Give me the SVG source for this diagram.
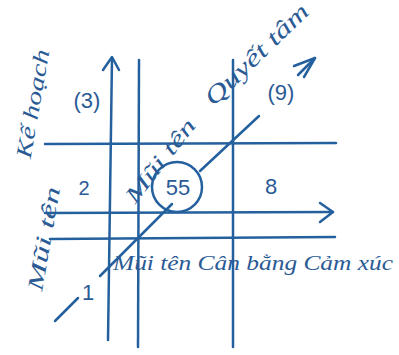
<svg xmlns="http://www.w3.org/2000/svg" width="399" height="355" viewBox="0 0 399 355">
<style>
.ln{stroke:#24609e;stroke-width:2.5;fill:none;stroke-linecap:round;stroke-linejoin:round}
.t{font-family:"Liberation Serif","DejaVu Serif",serif;font-style:italic;fill:#2b5b95;}
.n{font-family:"Liberation Sans","DejaVu Sans",sans-serif;fill:#2b5b95;}
</style>
<rect width="399" height="355" fill="#ffffff"/>
<g id="connectors">
<path class="ln" d="M108,340 L112,58"/>
<path class="ln" d="M103,70 L112,57 L119,70"/>
<path class="ln" d="M139,60 L138,347"/>
<path class="ln" d="M233,60 L233,347"/>
<path class="ln" d="M45,144 L336,143"/>
<path class="ln" d="M45,213 L333,212"/>
<path class="ln" d="M320,203 L333,212 L320,222"/>
<path class="ln" d="M50,239 L335,237"/>
<path class="ln" d="M55,321 L78,298"/>
<path class="ln" d="M100,276 L172,204"/>
<path class="ln" d="M200,171 L259,116"/>
<path class="ln" d="M298,75 L315,58"/>
<path class="ln" d="M294,66 L315,58 L304,77"/>
</g>
<g id="circle55">
<circle class="ln" cx="177" cy="187" r="25"/>
<text class="n" x="178" y="195" font-size="22" text-anchor="middle">55</text>
</g>
<g id="label-kehoach"><text class="t" transform="translate(40,105) rotate(-80)" font-size="22" text-anchor="middle" textLength="110" lengthAdjust="spacingAndGlyphs">Kế hoạch</text></g>
<g id="label-3"><text class="n" x="87" y="108" font-size="22" text-anchor="middle">(3)</text></g>
<g id="label-quyettam"><text class="t" transform="translate(262,60) rotate(-44)" font-size="24" text-anchor="middle" textLength="135" lengthAdjust="spacingAndGlyphs">Quyết tâm</text></g>
<g id="label-9"><text class="n" x="281" y="100" font-size="22" text-anchor="middle">(9)</text></g>
<g id="label-muiten-mid"><text class="t" transform="translate(166,165) rotate(-52)" font-size="22" text-anchor="middle" textLength="100" lengthAdjust="spacingAndGlyphs">Mũi tên</text></g>
<g id="label-2"><text class="n" x="84" y="195" font-size="20" text-anchor="middle">2</text></g>
<g id="label-8"><text class="n" x="271" y="194" font-size="22" text-anchor="middle">8</text></g>
<g id="label-muiten-left"><text class="t" transform="translate(51,240) rotate(-80)" font-size="22" text-anchor="middle" textLength="105" lengthAdjust="spacingAndGlyphs">Mũi tên</text></g>
<g id="label-1"><text class="n" x="88" y="300" font-size="22" text-anchor="middle">1</text></g>
<g id="label-bottom"><text class="t" x="113" y="270" font-size="22" textLength="280" lengthAdjust="spacingAndGlyphs">Mũi tên Cân bằng Cảm xúc</text></g>
</svg>
